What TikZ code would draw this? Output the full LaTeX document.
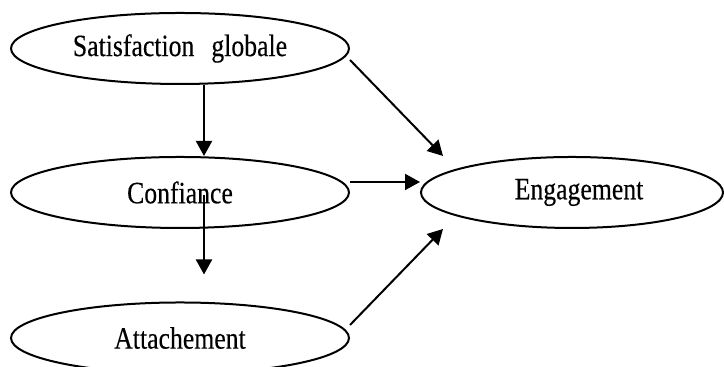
\documentclass[tikz,border=0pt]{standalone}
\usepackage{fontspec}
\setmainfont{Liberation Serif}[FakeStretch=0.83,FakeBold=0.3]
\usepackage{tikz}
\usetikzlibrary{shapes,arrows.meta,positioning,calc}

\begin{document}
\begin{tikzpicture}[x=0.5pt,y=0.5pt]
  % Define styles
  \tikzstyle{construct} = [ellipse, draw, line width=1pt, inner sep=0pt, minimum width=169pt, minimum height=35.5pt, font=\fontsize{15.5}{19}\selectfont]
  \tikzstyle{arrow} = [line width=1pt,-{Triangle[length=7.5pt,width=8pt]}]

  \useasboundingbox (0,0) rectangle (724,367);

  % Constructs
  \node [construct] (satisf) at (180,318.5) {Satisfaction\hspace{8.5pt}globale};
  \node [construct] (confiance) at (180,174.5) {Confiance};
  \node [construct] (attach) at (180,29) {Attachement};
  \node [construct, minimum width=151pt] (engage) at (572,174.5) {\hspace{7pt}Engagement};

  % Paths
  \draw [arrow] ([xshift=12pt]satisf.south) -- ([xshift=12pt]confiance.north);
  \draw [arrow] ([xshift=12pt,yshift=-1.5pt]confiance.center) -- ([xshift=12pt,yshift=13.5pt]attach.north);

  \draw [arrow] ([yshift=-5.75pt]satisf.east) -- ($(engage.west |- engage.north)+(23,0)$);
  \draw [arrow] ([yshift=5.25pt]confiance.east) -- ([yshift=5.25pt]engage.west);
  \draw [arrow] ([yshift=6.5pt]attach.east) -- ($(engage.west |- engage.south)+(23,0)$);

\end{tikzpicture}
\end{document}
